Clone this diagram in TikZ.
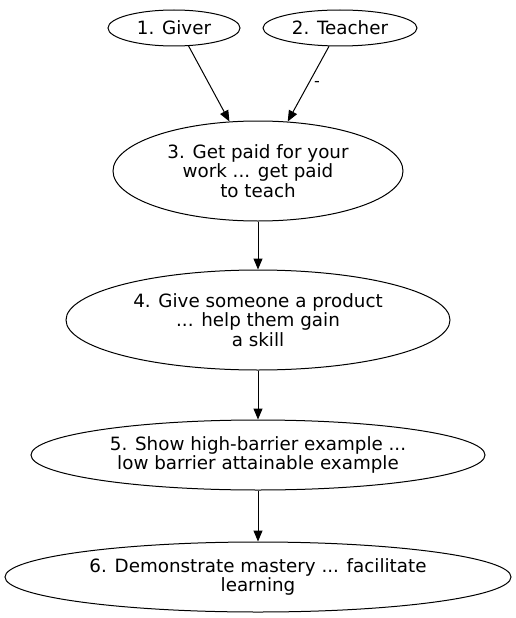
\documentclass[tikz,border=0pt]{standalone}
\usepackage{fontspec}
\setmainfont{DejaVu Sans}
\usetikzlibrary{shapes.geometric,arrows.meta}
\begin{document}
\begin{tikzpicture}[x=1pt,y=-1pt,
  el/.style={draw,line width=1pt,ellipse,inner sep=0pt,align=center,font=\fontsize{18.3}{19.3}\selectfont},
  edge/.style={draw,line width=1pt,-{Triangle[length=11pt,width=9pt]}}]
\useasboundingbox (0,0) rectangle (516,618);
\node[el,minimum width=132pt,minimum height=36pt] (g) at (174,28) {1. Giver};
\node[el,minimum width=154pt,minimum height=36pt] (t) at (340,28) {2. Teacher};
\node[el,minimum width=290pt,minimum height=100pt] (n3) at (258,171) {3. Get paid for your\\work ... get paid\\to teach};
\node[el,minimum width=384pt,minimum height=100pt] (n4) at (258,320) {4. Give someone a product\\... help them gain\\a skill};
\node[el,minimum width=454pt,minimum height=70pt] (n5) at (258,455) {5. Show high-barrier example ...\\low barrier attainable example};
\node[el,minimum width=506pt,minimum height=70pt] (n6) at (258,577) {6. Demonstrate mastery ... facilitate\\learning};
\draw[edge] (g.-51) -- (n3.120);
\draw[edge] (t.-121) -- node[right=2pt,pos=0.5,font=\fontsize{16}{18}\selectfont]{-} (n3.59);
\draw[edge] (n3) -- (n4);
\draw[edge] (n4) -- (n5);
\draw[edge] (n5) -- (n6);
\end{tikzpicture}
\end{document}
